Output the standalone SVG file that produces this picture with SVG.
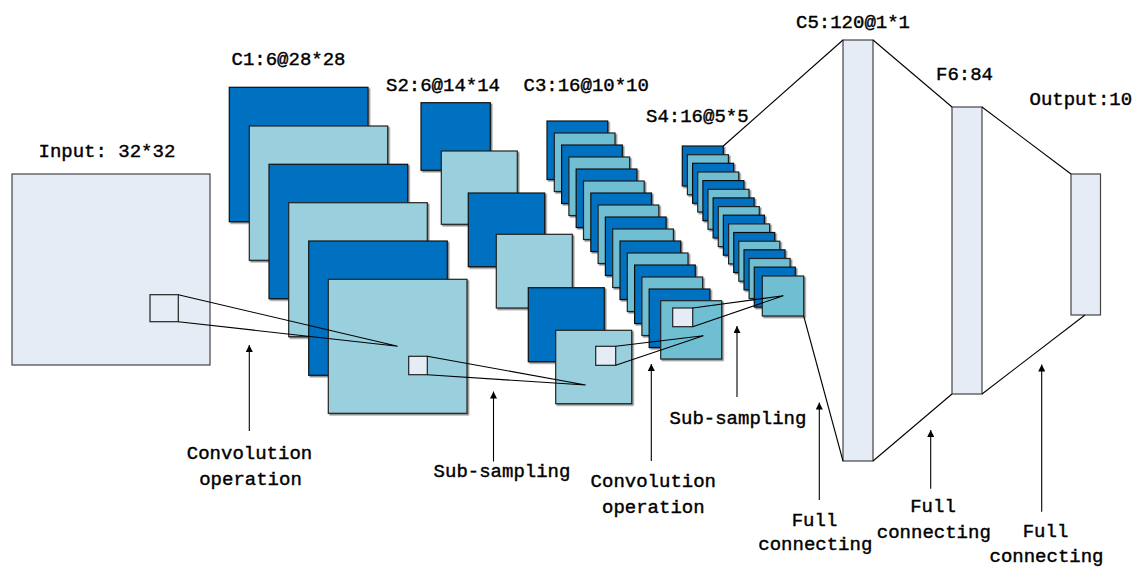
<svg xmlns="http://www.w3.org/2000/svg" width="1141" height="569" viewBox="0 0 1141 569">
<defs>
<filter id="sh" x="-10%" y="-10%" width="130%" height="130%">
<feDropShadow dx="1.5" dy="1.5" stdDeviation="0.6" flood-color="#000" flood-opacity="0.45"/>
</filter>
<marker id="ah" viewBox="0 0 10 10" refX="10" refY="5" markerWidth="7" markerHeight="7" orient="auto" markerUnits="userSpaceOnUse">
<path d="M0,0 L10,5 L0,10 z" fill="#000"/>
</marker>
<style>
.dk{fill:#0070C0;stroke:#111;stroke-width:1.2;filter:url(#sh)}
.lt{fill:#9AD0DD;stroke:#222;stroke-width:1.2;filter:url(#sh)}
.lt2{fill:#70BED2;stroke:#222;stroke-width:1.2;filter:url(#sh)}
.pale{fill:#E6ECF6;stroke:#444;stroke-width:1.2}
.sm{fill:#E6ECF6;stroke:#222;stroke-width:1.2}
.ln{stroke:#000;stroke-width:1.1;fill:none}
.ar{stroke:#000;stroke-width:1.1;fill:none;marker-end:url(#ah)}
text{font-family:"Liberation Mono","DejaVu Sans Mono",monospace;font-size:19px;fill:#000;stroke:#000;stroke-width:0.4}
.c{text-anchor:middle}
</style>
</defs>
<rect width="1141" height="569" fill="#fff"/>

<g id="input">
<rect class="pale" x="12" y="174" width="198" height="191"/>
<rect class="sm" x="150" y="294.7" width="28.3" height="27"/>
<text x="38.5" y="156.7">Input: 32*32</text>
</g>

<g id="c1">
<rect class="dk" x="229.3" y="87.3" width="138.7" height="134.4"/>
<rect class="lt" x="249.3" y="126" width="138.4" height="134.3"/>
<rect class="dk" x="269" y="164.3" width="138.7" height="134.4"/>
<rect class="lt" x="288.7" y="202.7" width="138.6" height="134"/>
<rect class="dk" x="308.7" y="241" width="138.6" height="134.3"/>
<rect class="lt" x="328.3" y="279.3" width="138.7" height="134"/>
<rect class="sm" x="408.7" y="356.3" width="18.6" height="18.4"/>
<text x="231.5" y="65">C1:6@28*28</text>
</g>

<g id="s2">
<rect class="dk" x="421" y="102.7" width="69.3" height="67.6"/>
<rect class="lt" x="441.3" y="151" width="76" height="73.3"/>
<rect class="dk" x="468.3" y="193" width="76.4" height="73.7"/>
<rect class="lt" x="496.3" y="234.3" width="76" height="73.7"/>
<rect class="dk" x="528.3" y="287.7" width="76" height="74"/>
<rect class="lt" x="555.7" y="330.3" width="76" height="73.4"/>
<rect class="sm" x="595.7" y="346.3" width="20" height="19"/>
<text x="386" y="90.7">S2:6@14*14</text>
</g>

<g id="c3">
<rect class="dk" x="547" y="121" width="60.7" height="58.5"/>
<rect class="lt2" x="554.3" y="133" width="60.7" height="58.5"/>
<rect class="dk" x="561.6" y="145" width="60.7" height="58.5"/>
<rect class="lt2" x="568.9" y="157" width="60.7" height="58.5"/>
<rect class="dk" x="576.2" y="169" width="60.7" height="58.5"/>
<rect class="lt2" x="583.5" y="181" width="60.7" height="58.5"/>
<rect class="dk" x="590.8" y="193" width="60.7" height="58.5"/>
<rect class="lt2" x="598.1" y="205" width="60.7" height="58.5"/>
<rect class="dk" x="605.4" y="217" width="60.7" height="58.5"/>
<rect class="lt2" x="612.7" y="229" width="60.7" height="58.5"/>
<rect class="dk" x="620" y="241" width="60.7" height="58.5"/>
<rect class="lt2" x="627.3" y="253" width="60.7" height="58.5"/>
<rect class="dk" x="634.6" y="265" width="60.7" height="58.5"/>
<rect class="lt2" x="641.9" y="277" width="60.7" height="58.5"/>
<rect class="dk" x="649.2" y="289" width="60.7" height="58.5"/>
<rect class="lt2" x="660.7" y="300.7" width="61" height="58.3"/>
<rect class="sm" x="672.7" y="308" width="20" height="18.7"/>
<text x="523.5" y="90.7">C3:16@10*10</text>
</g>

<g id="s4">
<rect class="dk" x="682.3" y="146" width="41" height="40"/>
<rect class="lt2" x="687.4" y="154.7" width="41" height="40"/>
<rect class="dk" x="692.6" y="163.3" width="41" height="40"/>
<rect class="lt2" x="697.7" y="172" width="41" height="40"/>
<rect class="dk" x="702.9" y="180.6" width="41" height="40"/>
<rect class="lt2" x="708" y="189.3" width="41" height="40"/>
<rect class="dk" x="713.1" y="197.9" width="41" height="40"/>
<rect class="lt2" x="718.3" y="206.6" width="41" height="40"/>
<rect class="dk" x="723.4" y="215.2" width="41" height="40"/>
<rect class="lt2" x="728.6" y="223.9" width="41" height="40"/>
<rect class="dk" x="733.7" y="232.5" width="41" height="40"/>
<rect class="lt2" x="738.8" y="241.2" width="41" height="40"/>
<rect class="dk" x="744" y="249.8" width="41" height="40"/>
<rect class="lt2" x="749.1" y="258.5" width="41" height="40"/>
<rect class="dk" x="754.3" y="267.1" width="41" height="40"/>
<rect class="lt2" x="762.3" y="276" width="41.4" height="40"/>
<text x="646" y="121.7">S4:16@5*5</text>
</g>

<g id="c5">
<rect class="pale" x="843" y="40" width="30" height="421"/>
<text x="796" y="28.3">C5:120@1*1</text>
</g>

<g id="f6">
<rect class="pale" x="952" y="107" width="30" height="287"/>
<text x="936" y="80">F6:84</text>
</g>

<g id="output">
<rect class="pale" x="1071" y="174" width="29.5" height="141"/>
<text x="1029.5" y="105">Output:10</text>
</g>

<g id="connectors">
<path class="ln" d="M178.3,294.7 L397.7,346.3 L178.3,321.7"/>
<path class="ln" d="M427.3,356.3 L585.7,385 L427.3,374.7"/>
<path class="ln" d="M615.7,346.3 L703.3,335.7 L615.7,365.3"/>
<path class="ln" d="M692.7,308 L783.3,295.7 L692.7,326.7"/>
<line class="ln" x1="723.3" y1="146" x2="843" y2="40"/>
<line class="ln" x1="803.7" y1="316" x2="843" y2="461"/>
<line class="ln" x1="873" y1="40" x2="952" y2="107"/>
<line class="ln" x1="873" y1="461" x2="952" y2="394"/>
<line class="ln" x1="982" y1="107" x2="1071" y2="174"/>
<line class="ln" x1="982" y1="394" x2="1085" y2="315"/>
<line class="ar" x1="249.3" y1="431" x2="249.3" y2="345"/>
<line class="ar" x1="493.5" y1="461.5" x2="493.5" y2="391.5"/>
<line class="ar" x1="651.3" y1="461" x2="651.3" y2="364"/>
<line class="ar" x1="737" y1="397" x2="737" y2="326"/>
<line class="ar" x1="819.3" y1="500" x2="819.3" y2="402.5"/>
<line class="ar" x1="930.7" y1="488.7" x2="930.7" y2="430"/>
<line class="ar" x1="1041.7" y1="511.7" x2="1041.7" y2="364.5"/>
</g>

<g id="labels">
<text class="c" x="249.5" y="459.3">Convolution</text>
<text class="c" x="250.5" y="485">operation</text>
<text class="c" x="502" y="477.3">Sub-sampling</text>
<text class="c" x="653.3" y="486.7">Convolution</text>
<text class="c" x="653.3" y="513.3">operation</text>
<text class="c" x="738" y="424.3">Sub-sampling</text>
<text class="c" x="814.5" y="525.7">Full</text>
<text class="c" x="815.3" y="550">connecting</text>
<text class="c" x="933" y="512.3">Full</text>
<text class="c" x="933.8" y="537.7">connecting</text>
<text class="c" x="1045.5" y="537.3">Full</text>
<text class="c" x="1046.5" y="562.3">connecting</text>
</g>
</svg>
